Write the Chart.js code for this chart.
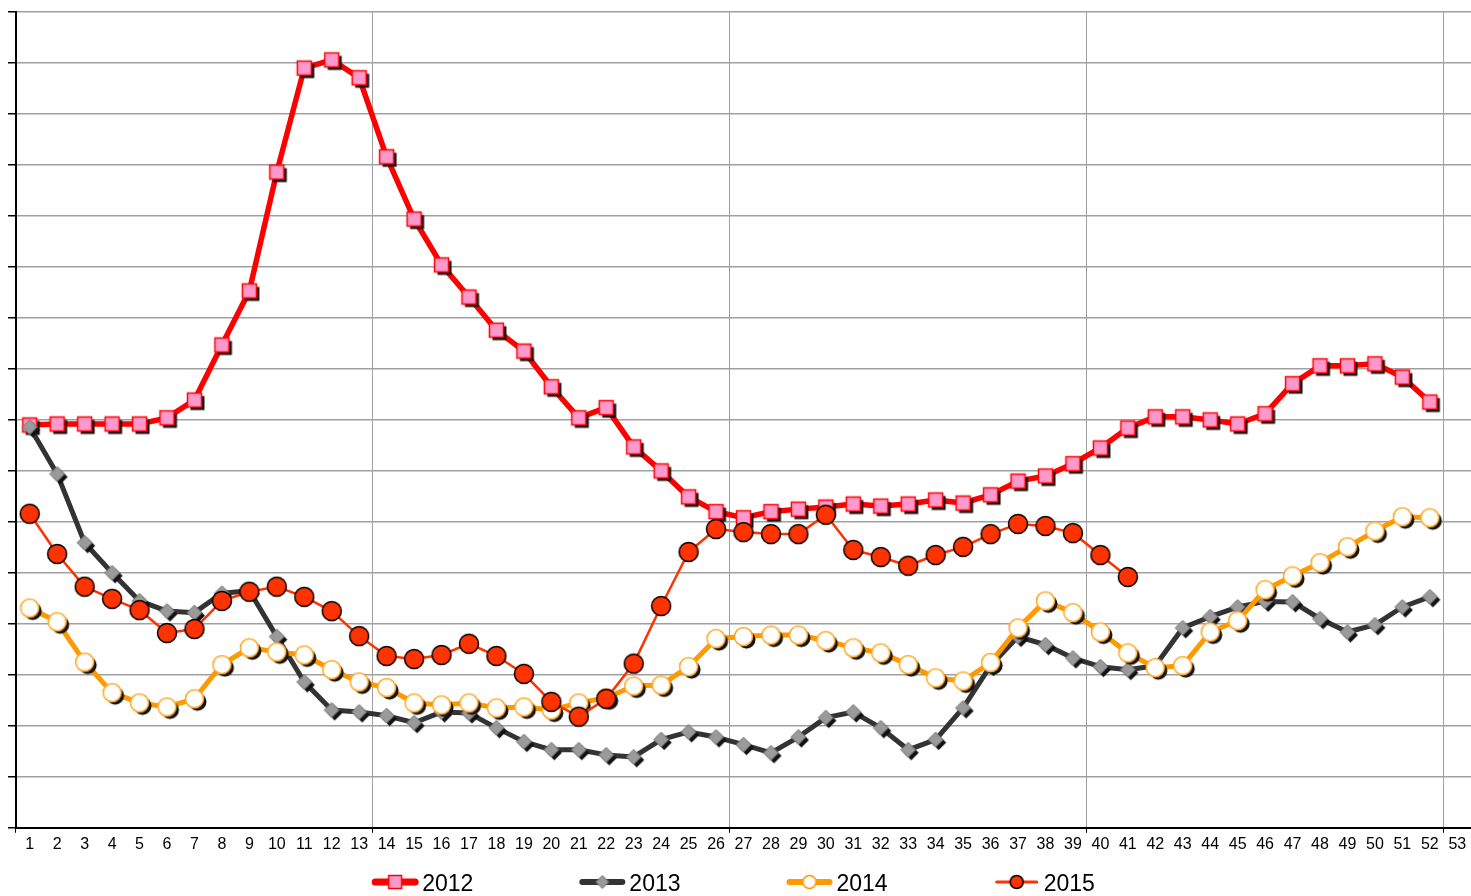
<!DOCTYPE html>
<html>
<head>
<meta charset="utf-8">
<script src="https://cdn.jsdelivr.net/npm/chart.js@4.4.1/dist/chart.umd.min.js"></script>
<style>
  html, body { margin: 0; padding: 0; background: #fff; }
</style>
</head>
<body>
<canvas id="weeklyChart" width="1471" height="896"></canvas>
<script>
// Weeks 1..53 on the category axis
const weeks = [];
for (let w = 1; w <= 53; w++) weeks.push(String(w));

// Values, in grid-line units (axis has no labels)
const y2012 = [7.90, 7.92, 7.92, 7.92, 7.92, 8.04, 8.39, 9.47, 10.53, 12.86,
  14.90, 15.06, 14.71, 13.16, 11.94, 11.04, 10.41, 9.76, 9.35, 8.65,
  8.04, 8.24, 7.47, 7.00, 6.49, 6.20, 6.08, 6.20, 6.25, 6.29,
  6.35, 6.31, 6.35, 6.43, 6.37, 6.53, 6.80, 6.90, 7.14, 7.45,
  7.84, 8.06, 8.06, 8.00, 7.92, 8.12, 8.71, 9.06, 9.06, 9.10, 8.84, 8.35, null];
const y2013 = [7.86, 6.94, 5.59, 5.00, 4.45, 4.25, 4.22, 4.60, 4.65, 3.75,
  2.86, 2.31, 2.27, 2.20, 2.06, 2.27, 2.25, 1.96, 1.69, 1.53,
  1.53, 1.43, 1.39, 1.73, 1.88, 1.78, 1.63, 1.47, 1.78, 2.16,
  2.27, 1.96, 1.53, 1.73, 2.35, 3.18, 3.75, 3.59, 3.33, 3.16,
  3.10, 3.18, 3.92, 4.14, 4.33, 4.44, 4.43, 4.10, 3.84, 3.98, 4.33, 4.53, null];
const y2014 = [4.31, 4.04, 3.25, 2.65, 2.45, 2.37, 2.53, 3.20, 3.53, 3.45,
  3.39, 3.10, 2.86, 2.75, 2.45, 2.41, 2.45, 2.35, 2.37, 2.31,
  2.45, 2.55, 2.78, 2.80, 3.16, 3.71, 3.75, 3.78, 3.78, 3.67,
  3.53, 3.43, 3.20, 2.94, 2.88, 3.24, 3.92, 4.45, 4.22, 3.84,
  3.43, 3.14, 3.18, 3.84, 4.06, 4.67, 4.94, 5.20, 5.51, 5.82, 6.10, 6.08, null];
const y2015 = [6.16, 5.37, 4.73, 4.49, 4.27, 3.82, 3.90, 4.45, 4.63, 4.73,
  4.53, 4.25, 3.76, 3.37, 3.31, 3.39, 3.61, 3.37, 3.02, 2.47,
  2.18, 2.53, 3.22, 4.35, 5.41, 5.86, 5.80, 5.76, 5.76, 6.14,
  5.45, 5.31, 5.14, 5.35, 5.51, 5.76, 5.96, 5.92, 5.78, 5.35,
  4.92, null, null, null, null, null, null, null, null, null, null, null, null];

const seriesNames = ['2012', '2013', '2014', '2015'];
const majorLines = [13, 26, 39, 52];

// marker outlines
function tracePath(g, shape, cx, cy, r) {
  g.beginPath();
  if (shape === 'rect') {
    g.rect(cx - r, cy - r, 2 * r, 2 * r);
  } else if (shape === 'diamond') {
    g.moveTo(cx, cy - r);
    g.lineTo(cx + r, cy);
    g.lineTo(cx, cy + r);
    g.lineTo(cx - r, cy);
    g.closePath();
  } else {
    g.arc(cx, cy, r, 0, Math.PI * 2);
  }
}

// small canvas used as pointStyle (with the Excel-like drop shadow)
function makeMarker(shape, r, fill, stroke, lw, shadow) {
  const pad = shadow ? 5 : 1;
  const size = Math.ceil(2 * (r + pad + lw));
  const c = document.createElement('canvas');
  c.width = size;
  c.height = size;
  const g = c.getContext('2d');
  const m = size / 2;
  if (shadow) {
    tracePath(g, shape, m + 3, m + 3, r);
    g.fillStyle = '#111';
    g.fill();
  }
  tracePath(g, shape, m, m, r);
  g.fillStyle = fill;
  g.fill();
  g.lineWidth = lw;
  g.strokeStyle = stroke;
  g.stroke();
  return c;
}

const markers = [
  makeMarker('rect', 7, '#ff99cc', '#ff0000', 1.5, true),
  makeMarker('diamond', 7.5, '#9a9a9a', '#6e6e6e', 1, true),
  makeMarker('circle', 9, '#ffffff', '#ffa726', 1.5, true),
  makeMarker('circle', 9.5, '#ff3300', '#000000', 1.5, false)
];
const legendMarks = [
  makeMarker('rect', 6.5, '#ff99cc', '#ff0000', 1.5, false),
  makeMarker('diamond', 6.5, '#9a9a9a', '#6e6e6e', 1, false),
  makeMarker('circle', 6.5, '#ffffff', '#ff9900', 1.5, false),
  makeMarker('circle', 6.5, '#ff3300', '#000000', 1.5, false)
];
const legendLine = [7, 6, 6, 3];

// legend drawn below the axis: line + marker + year
const bottomLegend = {
  id: 'bottomLegend',
  afterDraw(chart) {
    const ctx = chart.ctx;
    const sets = chart.data.datasets;
    const lineLen = 46, gap = 4, spacing = 106, y = 882;
    ctx.save();
    ctx.font = '23px "Liberation Sans", Arial, sans-serif';
    const widths = sets.map(d => lineLen + gap + ctx.measureText(d.label).width);
    const total = widths.reduce((a, b) => a + b, 0) + spacing * (sets.length - 1);
    let x = (chart.width - total) / 2 - 2;
    sets.forEach((d, i) => {
      ctx.strokeStyle = d.borderColor;
      ctx.lineWidth = legendLine[i];
      ctx.lineCap = 'round';
      ctx.beginPath();
      ctx.moveTo(x + 3, y);
      ctx.lineTo(x + lineLen - 3, y);
      ctx.stroke();
      const mk = legendMarks[i];
      ctx.drawImage(mk, x + lineLen / 2 - mk.width / 2, y - mk.height / 2);
      ctx.fillStyle = '#000';
      ctx.textBaseline = 'alphabetic';
      ctx.fillText(d.label, x + lineLen + gap, y + 9);
      x += widths[i] + spacing;
    });
    ctx.restore();
  }
};

Chart.defaults.font.family = '"Liberation Sans", Arial, sans-serif';
Chart.defaults.color = '#000';

const ctx = document.getElementById('weeklyChart').getContext('2d');
const weeklyChart = new Chart(ctx, {
  type: 'line',
  data: {
    labels: weeks,
    datasets: [
      { label: seriesNames[0], data: y2012, borderColor: '#ff0000', borderWidth: 5.5, order: 4,
        pointStyle: markers[0], pointRadius: 7 },
      { label: seriesNames[1], data: y2013, borderColor: '#333333', borderWidth: 5, order: 3,
        pointStyle: markers[1], pointRadius: 7 },
      { label: seriesNames[2], data: y2014, borderColor: '#ff9900', borderWidth: 5, order: 2,
        pointStyle: markers[2], pointRadius: 9 },
      { label: seriesNames[3], data: y2015, borderColor: '#ff3300', borderWidth: 2.5, order: 1,
        pointStyle: markers[3], pointRadius: 9.5 }
    ].map(d => Object.assign(d, {
      fill: false,
      tension: 0,
      borderJoinStyle: 'round',
      borderCapStyle: 'round',
      spanGaps: false
    }))
  },
  options: {
    responsive: false,
    animation: false,
    layout: { autoPadding: false, padding: { top: 12, left: 8, right: 0, bottom: 40 } },
    plugins: {
      legend: { display: false },
      tooltip: { enabled: false }
    },
    scales: {
      x: {
        offset: true,
        grid: {
          offset: true,
          lineWidth: 1,
          tickLength: 5,
          color: c => majorLines.includes(c.index) ? '#a0a0a0' : 'rgba(0,0,0,0)',
          tickColor: c => (c.index === 0 || majorLines.includes(c.index)) ? '#000' : 'rgba(0,0,0,0)'
        },
        border: { color: '#000', width: 2 },
        ticks: { autoSkip: false, maxRotation: 0, padding: 2, font: { size: 16 } }
      },
      y: {
        min: 0,
        max: 16,
        grid: {
          lineWidth: 1.5,
          tickLength: 8,
          color: c => c.index === 0 ? 'rgba(0,0,0,0)' : '#a0a0a0',
          tickColor: '#000'
        },
        border: { color: '#000', width: 2 },
        ticks: { stepSize: 1, display: false }
      }
    }
  },
  plugins: [bottomLegend]
});
</script>
</body>
</html>
